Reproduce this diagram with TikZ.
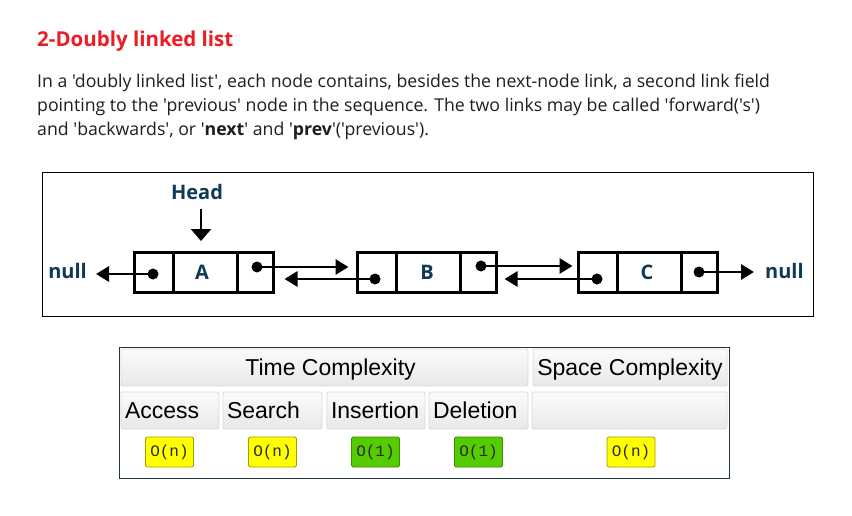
\documentclass[tikz,border=0pt]{standalone}
\usepackage{fontspec}
\setmainfont{Open Sans}[Ligatures=TeXOff]
\newfontfamily\tabfont{Liberation Sans}
\newfontfamily\monof{Liberation Mono}
\usetikzlibrary{arrows.meta,calc}
\definecolor{titlered}{HTML}{EC1C24}
\definecolor{bodytext}{HTML}{1E1E1E}
\definecolor{navy}{HTML}{0E3A53}
\definecolor{tabborder}{HTML}{1D3542}
\definecolor{cellborder}{HTML}{D9D9D9}
\definecolor{celltop}{HTML}{FBFBFB}
\definecolor{cellbot}{HTML}{E8E8E8}
\definecolor{byellow}{HTML}{FFFF00}
\definecolor{byellowb}{HTML}{A39E00}
\definecolor{bgreen}{HTML}{55CC00}
\definecolor{bgreenb}{HTML}{3B8C00}
\definecolor{badgetext}{HTML}{2A2A2A}
\tikzset{
  bodyline/.style={anchor=base west, inner sep=0, text=bodytext, font=\fontsize{17.7}{24}\selectfont},
  cell/.style={draw, line width=3pt, inner sep=0, minimum height=40},
  dlabel/.style={text=navy, font=\fontsize{20}{20}\selectfont\bfseries},
  arr/.style={line width=2.8pt, -{Triangle[length=13pt,width=15pt]}},
  harr/.style={line width=2.8pt, -{Triangle[length=12pt,width=20pt]}},
  dot/.style={fill=black},
  hcell/.style={draw=cellborder, line width=0.8pt, rounded corners=2pt, top color=celltop, bottom color=cellbot,
    inner sep=0, minimum height=37, text height=16.4pt, text depth=0pt, font=\tabfont\fontsize{23}{23}\selectfont, text=black},
  lcell/.style={hcell, align=left, text width=#1, inner xsep=4pt},
  badge/.style={rounded corners=1.5pt, line width=0.8pt, minimum width=48, minimum height=30, inner sep=0,
    text=badgetext, font=\monof\fontsize{16}{16}\selectfont},
  ybadge/.style={badge, draw=byellowb, fill=byellow},
  gbadge/.style={badge, draw=bgreenb, fill=bgreen}
}
\begin{document}
\begin{tikzpicture}[x=1pt,y=-1pt]
\useasboundingbox (0,0) rectangle (852,516);
\fill[white] (0,0) rectangle (852,516);

% title and text
\node[anchor=base west, inner sep=0, text=titlered, font=\fontsize{20.5}{22}\selectfont\bfseries] (title) at (37,46.7) {2-Doubly linked list};
\node[bodyline] (l1) at (37,87.5) {In a 'doubly linked list', each node contains, besides the next-node link, a second link field};
\node[bodyline] (l2) at (37,111.5) {pointing to the 'previous' node in the sequence. The two links may be called 'forward('s')};
\node[bodyline] (l3) at (37,135.5) {and 'backwards', or '\textbf{next}' and '\textbf{prev}'('previous').};

% diagram frame
\draw[line width=1pt] (42.5,173) rectangle (813.5,316);

% list nodes
\node[cell, minimum width=39] (Ap) at (153.5,272.5) {};
\node[cell, minimum width=64] (Ad) at (205,272.5) {};
\node[cell, minimum width=36] (An) at (255,272.5) {};
\node[cell, minimum width=39] (Bp) at (376.5,272.5) {};
\node[cell, minimum width=64] (Bd) at (428,272.5) {};
\node[cell, minimum width=36] (Bn) at (478,272.5) {};
\node[cell, minimum width=39] (Cp) at (597.5,272.5) {};
\node[cell, minimum width=64] (Cd) at (649,272.5) {};
\node[cell, minimum width=36] (Cn) at (699,272.5) {};

\node[dlabel] (la) at ([xshift=-3pt]Ad.center) {A};
\node[dlabel] (lb) at ([xshift=-1pt]Bd.center) {B};
\node[dlabel] (lc) at ([xshift=-2pt]Cd.center) {C};

\node[dlabel, anchor=east, inner sep=0] (nullL) at (87,270.5) {null};
\node[dlabel, anchor=west, inner sep=0] (nullR) at (765,270.5) {null};
\node[dlabel, inner sep=0] (head) at (197,192) {Head};

% pointer dots
\coordinate (Apd) at (153,274);
\coordinate (And) at (257,267);
\coordinate (Bpd) at (375,279);
\coordinate (Bnd) at (481,266);
\coordinate (Cpd) at (597,279);
\coordinate (Cnd) at (699,272);
\coordinate (hs) at (201,209);

% arrows
\draw[harr] (hs) -- ([yshift=10pt]hs |- Ad.north);
\draw[arr] (Apd) -- ([xshift=9pt]nullL.east |- Apd);
\draw[arr] (And) -- ([xshift=-7pt]Bp.west |- And);
\draw[arr] (Bpd) -- ([xshift=10pt]An.east |- Bpd);
\draw[arr] (Bnd) -- ([xshift=-4pt]Cp.west |- Bnd);
\draw[arr] (Cpd) -- ([xshift=7pt]Bn.east |- Cpd);
\draw[arr] (Cnd) -- ([xshift=-11pt]nullR.west |- Cnd);

\foreach \d in {Apd,And,Bpd,Bnd,Cpd,Cnd} \fill[dot] (\d) circle (5.5);

% table
\draw[tabborder, line width=1pt] (119.5,347.5) rectangle (729.5,478.5);
\node[hcell, minimum width=407] (tc) at (324.5,367.5) {\hspace*{12pt}Time Complexity};
\node[hcell, minimum width=194] (sc) at (630,367.5) {Space Complexity};
\node[lcell=90] (acc) at (170,410.5) {Access};
\node[lcell=91] (sea) at (272.5,410.5) {Search};
\node[lcell=90] (ins) at (376,410.5) {Insertion};
\node[lcell=91] (del) at (478.5,410.5) {Deletion};
\node[lcell=187] (emp) at (629.5,410.5) {};

\node[ybadge] (bacc) at (169.5,452) {O(n)};
\node[ybadge] (bsea) at (272.5,452) {O(n)};
\node[gbadge] (bins) at (375.5,452) {O(1)};
\node[gbadge] (bdel) at (478.5,452) {O(1)};
\node[ybadge] (bsp) at (631,452) {O(n)};
\end{tikzpicture}
\end{document}
